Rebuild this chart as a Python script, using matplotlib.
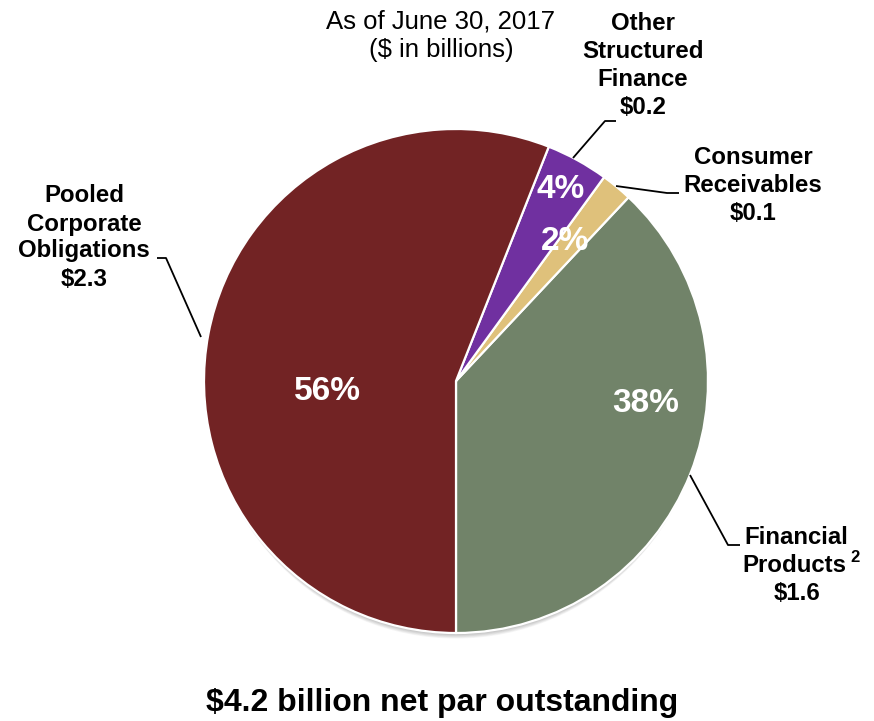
import matplotlib
matplotlib.use("Agg")
import matplotlib.pyplot as plt
from matplotlib.patches import Circle

plt.rcParams['font.family'] = ['Liberation Sans', 'DejaVu Sans']

# Portfolio breakdown, net par outstanding as of June 30, 2017
categories = ["Financial Products", "Consumer Receivables",
              "Other Structured Finance", "Pooled Corporate Obligations"]
shares_pct = [38, 2, 4, 56]
par_billions = [1.6, 0.1, 0.2, 2.3]
colors = ["#718369", "#DFC17B", "#7030A0", "#722324"]

W, H = 874, 721
fig = plt.figure(figsize=(W / 100, H / 100), dpi=100)
ax = fig.add_axes([0, 0, 1, 1])


def py(y):
    """Convert a top-down pixel row to axes y."""
    return H - y


cx, cy, r = 456, py(381), 252

# soft drop shadow under the pie
for i in range(9):
    ax.add_patch(Circle((cx, cy - 2 - i), r - 2 - i * 0.3, color='black',
                        alpha=0.035, lw=0, zorder=1))

wedges, _ = ax.pie(shares_pct, colors=colors, startangle=-90, counterclock=True,
                   center=(cx, cy), radius=r, frame=True,
                   wedgeprops=dict(edgecolor='white', linewidth=1.6))
for w in wedges:
    w.set_zorder(2)
ax.set_xlim(0, W)
ax.set_ylim(0, H)
ax.set_aspect('equal')
ax.axis('off')

# percentage labels inside slices
pct_pos = {0: (646, 403), 1: (565, 241), 2: (561, 189), 3: (327, 392)}
for i, p in enumerate(shares_pct):
    x, y = pct_pos[i]
    ax.text(x, py(y), f"{p}%", color='white', fontsize=24, fontweight='bold',
            ha='center', va='center', zorder=3)

# header
ax.text(441, py(22), "As of June 30, 2017", fontsize=18.5, ha='center', va='center')
ax.text(441, py(50), "($ in billions)", fontsize=18.5, ha='center', va='center')

lab = dict(fontsize=17.3, fontweight='bold', ha='center', va='center')


def money(v):
    return f"${v:.1f}"


# category labels
for yy, t in zip([24, 52, 80, 108], ["Other", "Structured", "Finance", money(par_billions[2])]):
    ax.text(643, py(yy), t, **lab)
for yy, t in zip([158, 185, 213], ["Consumer", "Receivables", money(par_billions[1])]):
    ax.text(753, py(yy), t, **lab)
for yy, t in zip([196, 224, 251, 279], ["Pooled", "Corporate", "Obligations", money(par_billions[3])]):
    ax.text(84, py(yy), t, **lab)
ax.text(796, py(538), "Financial", **lab)
ax.text(794, py(565), "Products", **lab)
ax.text(855, py(557), "2", fontsize=12, fontweight='bold', ha='center', va='center')
ax.text(797, py(593), money(par_billions[0]), **lab)

# leader lines
leaders = [
    [(573, 158), (605, 121), (616, 121)],
    [(616, 186), (667, 193), (679, 193)],
    [(157, 258), (166, 258), (201, 337)],
    [(690, 475), (728, 545), (740, 545)],
]
for pts in leaders:
    xs = [p[0] for p in pts]
    ys = [py(p[1]) for p in pts]
    ax.plot(xs, ys, color='black', lw=1.3, zorder=4, solid_capstyle='butt')

# footer
ax.text(442, py(703), "$4.2 billion net par outstanding", fontsize=23,
        fontweight='bold', ha='center', va='center')

fig.savefig("out.png", dpi=100, facecolor='white')
